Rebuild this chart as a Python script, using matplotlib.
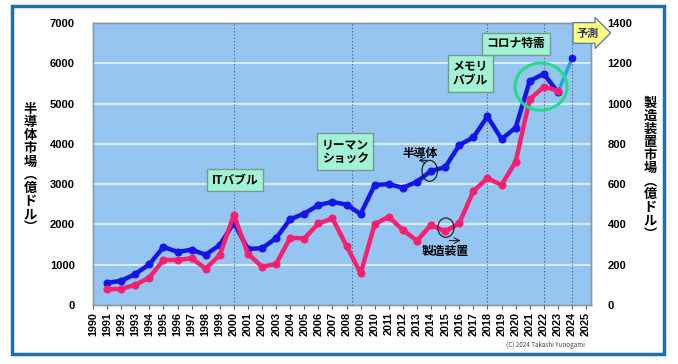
import matplotlib
matplotlib.use("Agg")
import matplotlib.pyplot as plt
from matplotlib.patches import Ellipse, Rectangle

plt.rcParams["font.family"] = ["Noto Sans CJK JP", "DejaVu Sans"]
plt.rcParams["font.weight"] = "bold"

# 年
years = list(range(1990, 2026))
semi_years = list(range(1991, 2024))
# 半導体市場（億ドル）
semi = [550, 600, 770, 1010, 1440, 1320, 1370, 1250, 1490, 2040, 1390,
        1410, 1660, 2130, 2270, 2480, 2560, 2490, 2260, 2980, 3000, 2910,
        3060, 3330, 3420, 3970, 4160, 4680, 4120, 4400, 5560, 5740, 5280]
fc_years = [2023, 2024]
fc_semi = [5280, 6120]
# 製造装置市場（億ドル）
equip = [78, 80, 100, 136, 223, 224, 232, 181, 248, 447, 254,
         190, 204, 334, 330, 405, 430, 293, 157, 402, 438, 372,
         319, 398, 365, 406, 565, 629, 596, 711, 1021, 1083, 1064]

events = [(2000.1, "ITバブル", 3100), (2007.9, "リーマン\nショック", 3810),
          (2016.8, "メモリ\nバブル", 5750), (2020.0, "コロナ特需", 6480)]
vlines = [2000, 2008.4, 2018, 2022, 2024]

BLUE = "#1515E8"
PINK = "#F5206E"
BG = "#95C6F2"
BOX = "#A2F2D6"

fig = plt.figure(figsize=(6.78, 3.64), dpi=100)
W, H = 678, 364
ax = fig.add_axes([93 / W, 1 - 305 / H, (591 - 93) / W, (305 - 23) / H])
ax2 = ax.twinx()

ax.set_facecolor(BG)
ax.set_xlim(1990, 2025.35)
ax.set_ylim(0, 7000)
ax2.set_ylim(0, 1400)
for y in range(1000, 7000, 1000):
    ax.axhline(y, color="white", lw=1.2, alpha=0.8, zorder=1)
for x in vlines:
    ax.axvline(x, color="#555555", lw=0.8, ls=(0, (1, 2)), zorder=2)

ax.plot(fc_years, fc_semi, color="#2AA2E2", lw=2.5, zorder=3)
ax.plot(fc_years[1:], fc_semi[1:], "o", color=BLUE, ms=4.5, zorder=4)
ax.plot(semi_years, semi, "-o", color=BLUE, lw=3.2, ms=4.8, zorder=4)
ax2.plot(semi_years, equip, "-o", color=PINK, lw=3.2, ms=4.8, zorder=4)

ax.set_xticks(years)
ax.set_xticklabels([str(y) for y in years], rotation=90, fontsize=7.8,
                   fontweight="bold", family="Liberation Sans")
ax.set_yticks(range(0, 7001, 1000))
ax.set_yticklabels([str(v) for v in range(0, 7001, 1000)], fontsize=8,
                   fontweight="bold", family="Liberation Sans")
ax2.set_yticks(range(0, 1401, 200))
ax2.set_yticklabels([str(v) for v in range(0, 1401, 200)], fontsize=8,
                    fontweight="bold", family="Liberation Sans")
ax.tick_params(axis="x", length=3, pad=2, color="#555555")
ax.tick_params(axis="y", length=0, pad=13)
ax2.tick_params(axis="y", length=0, pad=12)
for a in (ax, ax2):
    for s in a.spines.values():
        s.set_color("#8899AA")
        s.set_linewidth(1)

# イベントラベル
for tx, label, yv in events:
    ax2.text(tx, yv, label, transform=ax.transData, ha="center", va="center",
             fontsize=8.5, fontweight="bold", linespacing=1.1, zorder=6,
             bbox=dict(boxstyle="square,pad=0.4", fc=BOX, ec="#7A9A90", lw=1))

# 注目の円
ax2.add_patch(Ellipse((2021.8, 5420), 3.7, 1170, transform=ax.transData,
                      fill=False, ec="#22DD88", lw=2.2, zorder=7))
ax2.add_patch(Ellipse((2013.9, 3330), 1.1, 520, transform=ax.transData,
                      fill=False, ec="#222222", lw=0.9, zorder=7))
ax2.add_patch(Ellipse((2015.05, 1920), 1.15, 480, transform=ax.transData,
                      fill=False, ec="#222222", lw=0.9, zorder=7))
ax2.annotate("", xy=(2012.9, 3590), xytext=(2013.9, 3590),
             xycoords=ax.transData, textcoords=ax.transData,
             arrowprops=dict(arrowstyle="->", color="#222222", lw=0.8))
ax2.annotate("", xy=(2016.3, 1600), xytext=(2015.1, 1600),
             xycoords=ax.transData, textcoords=ax.transData,
             arrowprops=dict(arrowstyle="->", color="#222222", lw=0.8))
ax2.text(2013.2, 3760, "半導体", transform=ax.transData, ha="center",
         va="center", fontsize=8.5, fontweight="bold", zorder=7)
ax2.text(2015.0, 1330, "製造装置", transform=ax.transData, ha="center",
         va="center", fontsize=8.5, fontweight="bold", zorder=7)

# 予測
fig.text(588 / W, 1 - 33 / H, "予測", ha="center", va="center", fontsize=8,
         fontweight="bold", color="#333366",
         bbox=dict(boxstyle="rarrow,pad=0.35", fc="#FFFF80", ec="#5C7FB5", lw=1))

# 軸タイトル（縦書き）
fig.text(30 / W, 1 - 168 / H, "\n".join("半導体市場︵億ドル︶"), ha="center",
         va="center", fontsize=9.5, fontweight="bold", linespacing=0.92)
fig.text(650 / W, 1 - 168 / H, "\n".join("製造装置市場︵億ドル︶"), ha="center",
         va="center", fontsize=9.5, fontweight="bold", linespacing=0.92)

fig.text(545 / W, 1 - 345 / H, "(C) 2024 Takashi Yunogami", ha="center",
         va="center", fontsize=4.5, color="#444444", fontweight="normal")

fig.patches.append(Rectangle((12 / W, 1 - 354 / H), (664 - 12) / W, (354 - 6) / H,
                             transform=fig.transFigure, fill=False,
                             ec="#1F6FA8", lw=2.5))

fig.savefig("out.png", dpi=100)
